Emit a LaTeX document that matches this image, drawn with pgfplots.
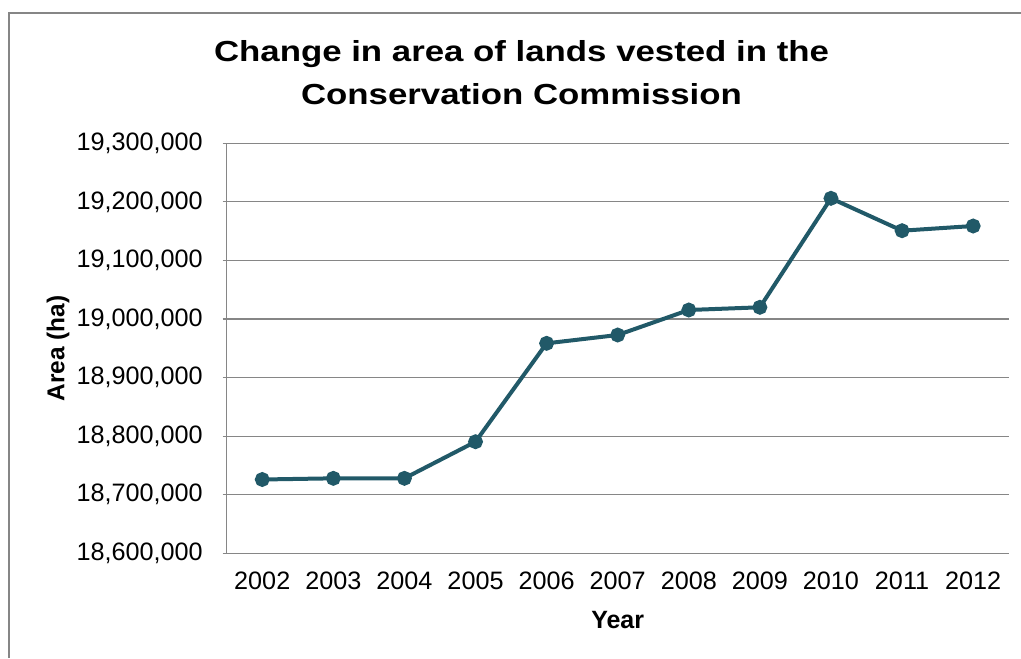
\documentclass[border=0pt]{standalone}
\usepackage{pgfplots}
\pgfplotsset{compat=1.18}
\usepackage{fontspec}
\setmainfont{Liberation Sans}
\definecolor{lineteal}{RGB}{33,89,104}
\definecolor{gridgray}{RGB}{134,134,134}

\begin{document}
\begin{tikzpicture}
	\useasboundingbox (0,0) rectangle (510.5pt,329pt);
	% outer chart frame (only left and top are in view)
	\draw[gridgray, line width=1pt] (4.5pt,0) -- (4.5pt,322.5pt) -- (512pt,322.5pt);
	\begin{axis}[
		at={(113.35pt,52.35pt)}, anchor=south west,
		scale only axis,
		width=391pt, height=205pt,
		xmin=2001.5, xmax=2012.5,
		ymin=18600000, ymax=19300000,
		xtick=data,
		ytick={18600000,18700000,18800000,18900000,19000000,19100000,19200000,19300000},
		scaled y ticks=false,
		/pgf/number format/assume math mode=true,
		yticklabel style={/pgf/number format/fixed, /pgf/number format/1000 sep={,}, font=\fontsize{12.6}{13}\selectfont, xshift=-6.5pt},
		xticklabel style={/pgf/number format/1000 sep={}, font=\fontsize{12.6}{13}\selectfont, yshift=-4pt},
		axis x line=bottom, axis y line=left,
		axis line style={-, gridgray, line width=0.6pt},
		ymajorgrids, grid style={gridgray, line width=0.6pt},
		xtick style={draw=none},
		ytick style={gridgray, line width=0.6pt},
		tick align=outside, major tick length=2pt,
		xlabel={\textbf{Year}},
		ylabel={\textbf{Area (ha)}},
		xlabel style={font=\fontsize{12.5}{13}\selectfont, at={(axis description cs:0.5,-0.163)}, anchor=center},
		ylabel style={font=\fontsize{12.2}{13}\selectfont, at={(axis description cs:-0.2157,0.5)}, anchor=center, rotate=0},
		title={\scalebox{1.2}[1]{\textbf{Change in area of lands vested in the}}\\\scalebox{1.2}[1]{\textbf{Conservation Commission}}},
		title style={font=\fontsize{14.5}{21.5}\selectfont, align=center, at={(axis description cs:0.377,1.143)}, anchor=center},
		clip=false,
	]
		\addplot[lineteal, line width=2pt, mark=*, mark size=2.7pt, mark options={fill=lineteal, draw=lineteal}] coordinates {
			(2002,18726000)
			(2003,18728000)
			(2004,18728000)
			(2005,18790500)
			(2006,18958500)
			(2007,18972700)
			(2008,19015400)
			(2009,19020000)
			(2010,19206100)
			(2011,19150800)
			(2012,19158800)
		};
	\end{axis}
\end{tikzpicture}
\end{document}
